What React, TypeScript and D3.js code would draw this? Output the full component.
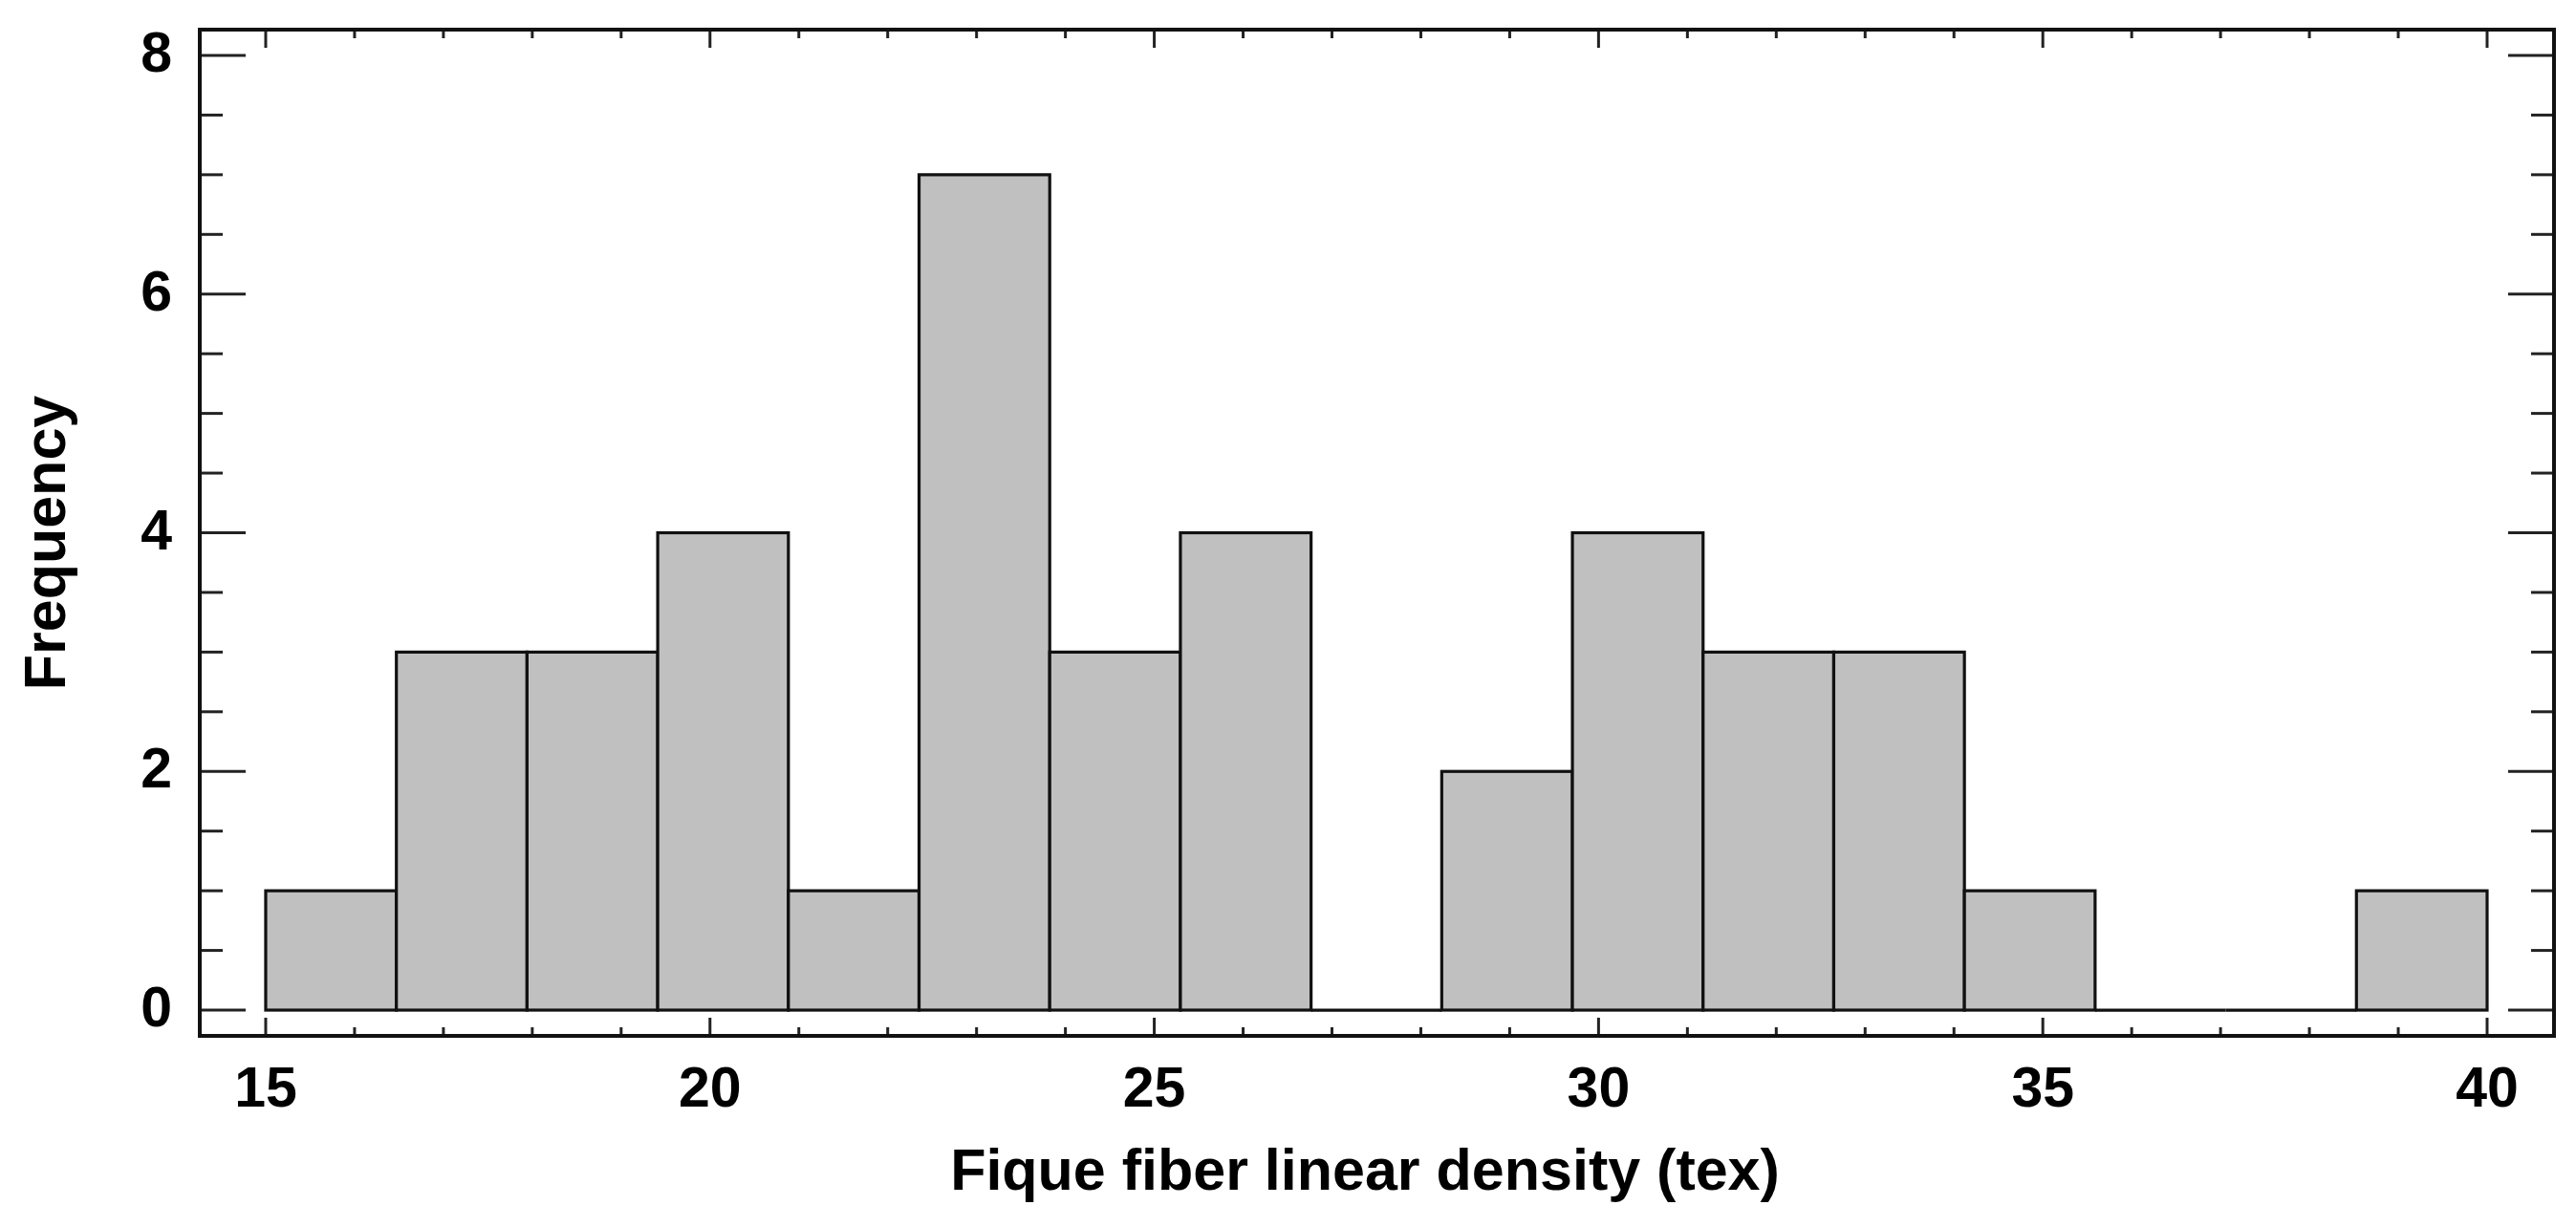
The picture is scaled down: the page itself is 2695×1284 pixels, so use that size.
import React from "react";
import * as d3 from "d3";

const binStart = 15;
const binEnd = 40;
const counts = [1, 3, 3, 4, 1, 7, 3, 4, 0, 2, 4, 3, 3, 1, 0, 0, 1];
const xTickValues = [15, 20, 25, 30, 35, 40];
const yTickValues = [0, 2, 4, 6, 8];
const xTitle = "Fique fiber linear density (tex)";
const yTitle = "Frequency";

const W = 2695;
const H = 1284;
const frame = { left: 209, right: 2672, top: 31, bottom: 1084 };
const FONT = "'Liberation Sans', Arial, sans-serif";

export default function App() {
  const x = d3.scaleLinear().domain([14.258, 40.753]).range([frame.left, frame.right]);
  const y = d3.scaleLinear().domain([-0.216, 8.216]).range([frame.bottom, frame.top]);
  const bw = (binEnd - binStart) / counts.length;
  const bins = counts.map((c, i) => ({ x0: binStart + i * bw, x1: binStart + (i + 1) * bw, c }));
  const xMinor = d3.range(15, 41, 1).filter((v) => v % 5 !== 0);
  const yMinor = d3.range(0, 8.01, 0.5).filter((v) => v % 2 !== 0);
  const tickColor = "#222";
  return (
    <svg width={W} height={H} style={{ position: "absolute", left: 0, top: 0, background: "#fff" }}>
      <rect x={0} y={0} width={W} height={H} fill="#fff" />
      {bins.map((b, i) =>
        b.c > 0 ? (
          <rect
            key={i}
            x={x(b.x0)}
            y={y(b.c)}
            width={x(b.x1) - x(b.x0)}
            height={y(0) - y(b.c)}
            fill="#c0c0c0"
            stroke="#111"
            strokeWidth={3.2}
          />
        ) : (
          <line key={i} x1={x(b.x0)} x2={x(b.x1)} y1={y(0)} y2={y(0)} stroke="#111" strokeWidth={3.2} />
        )
      )}
      {yTickValues.map((v) => (
        <g key={"ym" + v}>
          <line x1={frame.left} x2={frame.left + 48} y1={y(v)} y2={y(v)} stroke={tickColor} strokeWidth={3} />
          <line x1={frame.right} x2={frame.right - 48} y1={y(v)} y2={y(v)} stroke={tickColor} strokeWidth={3} />
          <text x={180} y={y(v) + 17} textAnchor="end" fontFamily={FONT} fontWeight="bold" fontSize={59} fill="#000">
            {v}
          </text>
        </g>
      ))}
      {yMinor.map((v) => (
        <g key={"yn" + v}>
          <line x1={frame.left} x2={frame.left + 24} y1={y(v)} y2={y(v)} stroke={tickColor} strokeWidth={3} />
          <line x1={frame.right} x2={frame.right - 24} y1={y(v)} y2={y(v)} stroke={tickColor} strokeWidth={3} />
        </g>
      ))}
      {xTickValues.map((v) => (
        <g key={"xm" + v}>
          <line x1={x(v)} x2={x(v)} y1={frame.bottom} y2={frame.bottom - 19} stroke={tickColor} strokeWidth={3} />
          <line x1={x(v)} x2={x(v)} y1={frame.top} y2={frame.top + 19} stroke={tickColor} strokeWidth={3} />
          <text x={x(v)} y={1158} textAnchor="middle" fontFamily={FONT} fontWeight="bold" fontSize={59} fill="#000">
            {v}
          </text>
        </g>
      ))}
      {xMinor.map((v) => (
        <g key={"xn" + v}>
          <line x1={x(v)} x2={x(v)} y1={frame.bottom} y2={frame.bottom - 9} stroke={tickColor} strokeWidth={3} />
          <line x1={x(v)} x2={x(v)} y1={frame.top} y2={frame.top + 9} stroke={tickColor} strokeWidth={3} />
        </g>
      ))}
      <rect
        x={frame.left}
        y={frame.top}
        width={frame.right - frame.left}
        height={frame.bottom - frame.top}
        fill="none"
        stroke="#111"
        strokeWidth={4}
      />
      <text x={1428} y={1245} textAnchor="middle" fontFamily={FONT} fontWeight="bold" fontSize={61} fill="#000">
        {xTitle}
      </text>
      <text
        transform={`translate(68,568) rotate(-90)`}
        textAnchor="middle"
        fontFamily={FONT}
        fontWeight="bold"
        fontSize={61}
        fill="#000"
      >
        {yTitle}
      </text>
    </svg>
  );
}
